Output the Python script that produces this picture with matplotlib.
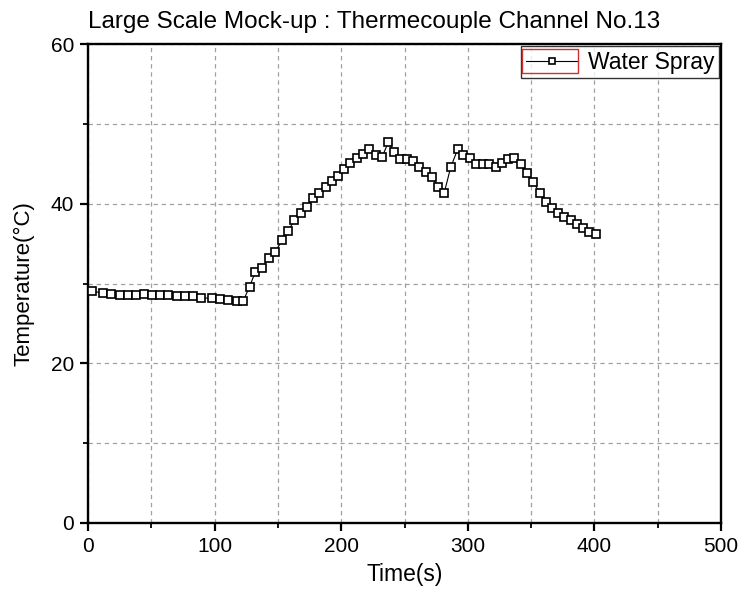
import matplotlib
matplotlib.use("Agg")
import matplotlib.pyplot as plt
from matplotlib.patches import Rectangle
from matplotlib.ticker import MultipleLocator

# ---- data ----
time_s = [2.9, 11.8, 18.4, 25.0, 31.5, 38.0, 44.0, 50.3, 56.8, 63.3,
          70.0, 76.6, 83.0, 89.6, 97.7, 104.3, 110.8, 117.5, 122.7,
          127.6, 132.3, 137.6, 142.8, 147.6, 153.3,
          158.2, 163.0, 168.0, 172.7, 177.5, 182.7, 187.8, 192.5, 197.2,
          202.4, 207.2, 212.2, 217.5, 222.2, 227.3, 232.2, 237.2, 241.7,
          246.4, 251.7, 256.5, 261.7, 266.7, 271.7, 276.7, 281.4, 286.5,
          292.0, 296.4, 301.7, 306.5, 311.8, 317.0, 322.0, 326.8, 331.5,
          336.7, 342.0, 346.5, 351.7, 357.0, 361.8, 366.9, 371.5, 376.2,
          381.3, 386.0, 390.8, 395.7, 401.3]
temp_c = [29.0, 28.85, 28.7, 28.55, 28.55, 28.55, 28.7, 28.55, 28.55, 28.5,
          28.4, 28.4, 28.45, 28.2, 28.15, 28.0, 27.95, 27.75, 27.85,
          29.6, 31.5, 32.0, 33.2, 33.9, 35.4,
          36.58, 37.96, 38.80, 39.55, 40.67, 41.38, 42.13, 42.88, 43.47,
          44.38, 45.06, 45.69, 46.22, 46.81, 46.14, 45.81, 47.69, 46.44,
          45.56, 45.56, 45.38, 44.63, 44.00, 43.30, 42.13, 41.38, 44.56,
          46.81, 46.06, 45.69, 44.93, 44.93, 44.93, 44.56, 45.13, 45.56,
          45.76, 44.93, 43.80, 42.75, 41.30, 40.21, 39.42, 38.87, 38.29,
          37.96, 37.46, 36.92, 36.49, 36.16]

series_label = "Water Spray"
title = "Large Scale Mock-up : Thermecouple Channel No.13"
xlabel = "Time(s)"
ylabel = "Temperature(\u00b0C)"

plt.rcParams['font.family'] = ['Liberation Sans', 'DejaVu Sans']

W, H = 749, 600
fig = plt.figure(figsize=(W / 100, H / 100), dpi=100)
ax = fig.add_axes([88 / W, 1 - 523 / H, (721 - 88) / W, (523 - 44) / H])

ax.plot(time_s, temp_c, color='black', lw=0.8, marker='s', markersize=6.2,
        markerfacecolor='white', markeredgecolor='black', markeredgewidth=1.2,
        label=series_label, zorder=3)

ax.set_xlim(0, 500)
ax.set_ylim(0, 60)
ax.xaxis.set_major_locator(MultipleLocator(100))
ax.xaxis.set_minor_locator(MultipleLocator(50))
ax.yaxis.set_major_locator(MultipleLocator(20))
ax.yaxis.set_minor_locator(MultipleLocator(10))

ax.grid(True, which='both', color='#a0a0a0', linestyle=(0, (3.5, 3)), lw=0.9)
ax.set_axisbelow(True)

for s in ax.spines.values():
    s.set_linewidth(1.7)
ax.tick_params(which='major', direction='out', length=6, width=1.6, labelsize=15, pad=4)
ax.tick_params(which='minor', direction='out', length=3.5, width=1.3)

ax.set_xlabel(xlabel, fontsize=16.5, labelpad=5)
ax.set_ylabel(ylabel, fontsize=16, labelpad=12)
fig.text(88 / W, 1 - 22 / H, title, fontsize=17.5, ha='left', va='center')

leg = ax.legend(loc='upper right', frameon=True, fancybox=False,
                borderaxespad=0.1, handlelength=2.3, handletextpad=0.4,
                borderpad=0.2, markerscale=0.7, prop={'size': 16.5})
leg.get_frame().set_edgecolor('black')
leg.get_frame().set_linewidth(1.0)

fig.patches.append(Rectangle((522 / W, 1 - 73 / H), (578 - 522) / W, (73 - 49) / H,
                             transform=fig.transFigure, fill=False,
                             edgecolor='#d03030', lw=1.0, zorder=10))

fig.savefig("out.png", dpi=100)
